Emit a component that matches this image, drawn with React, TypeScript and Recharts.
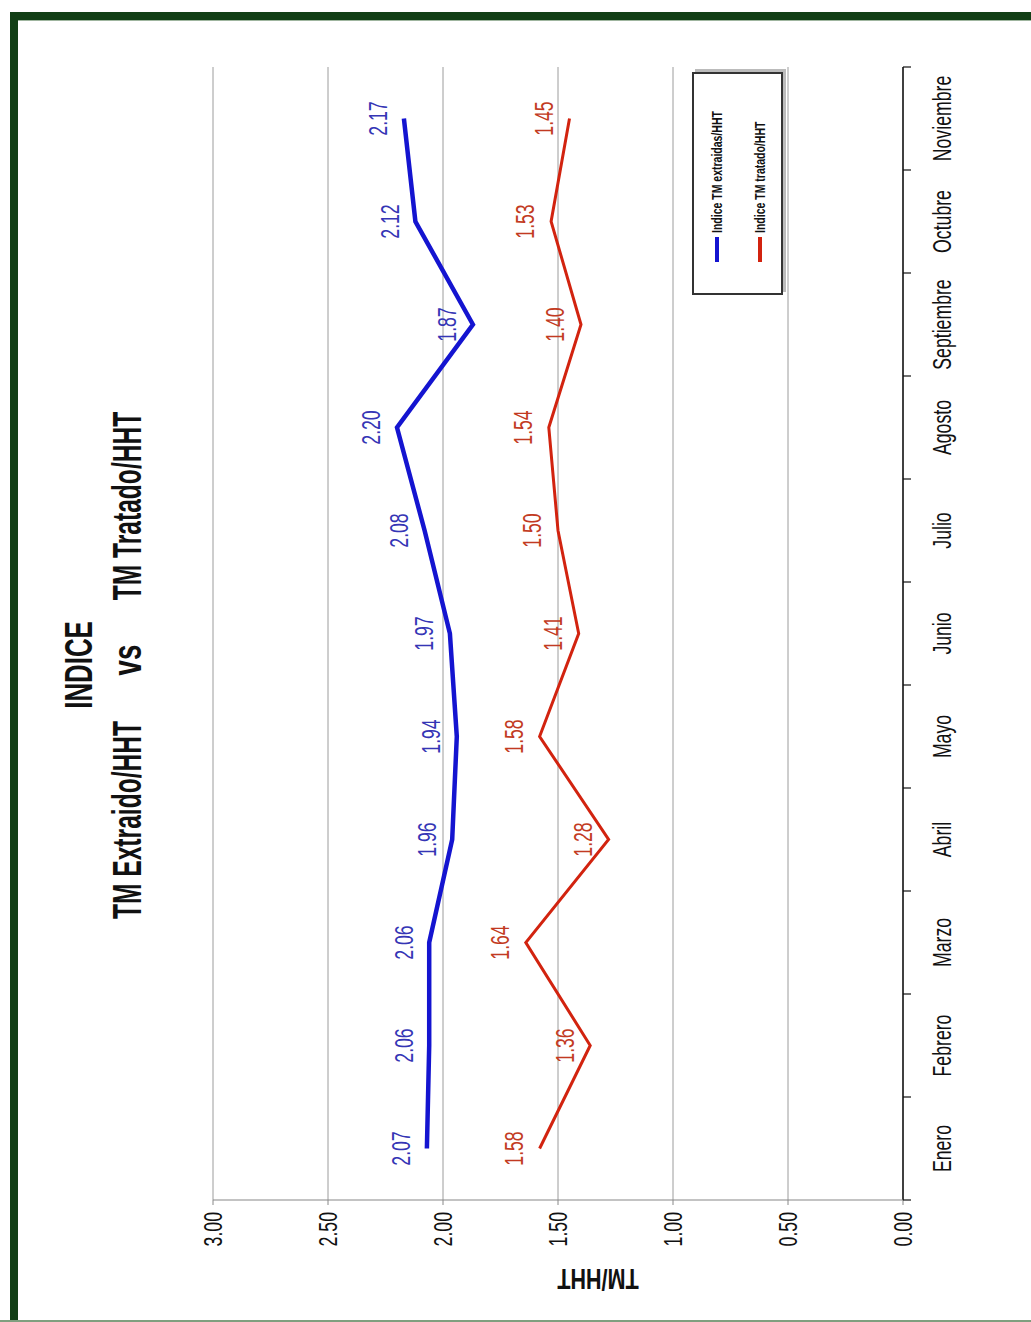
import React from 'react';
import { LineChart, Line, XAxis, YAxis, CartesianGrid, Legend, LabelList } from 'recharts';

const months = ['Enero', 'Febrero', 'Marzo', 'Abril', 'Mayo', 'Junio', 'Julio', 'Agosto', 'Septiembre', 'Octubre', 'Noviembre'];
const extraido = [2.07, 2.06, 2.06, 1.96, 1.94, 1.97, 2.08, 2.2, 1.87, 2.12, 2.17];
const tratado = [1.58, 1.36, 1.64, 1.28, 1.58, 1.41, 1.5, 1.54, 1.4, 1.53, 1.45];
const yTicks = [0, 0.5, 1, 1.5, 2, 2.5, 3];
const seriesNames = ['Indice TM extraidas/HHT', 'Indice TM tratado/HHT'];
const titleLine1 = 'INDICE';
const titleParts = ['TM Extraido/HHT', 'vs', 'TM Tratado/HHT'];
const yLabel = 'TM/HHT';

const data = months.map((m, i) => ({ month: m, extraido: extraido[i], tratado: tratado[i] }));

// landscape layout (rendered then rotated -90deg)
const W = 1322;
const H = 1031;
const PLOT_LEFT = 122;
const PLOT_RIGHT = 1255;
const PLOT_TOP = 213;
const PLOT_BOTTOM = 903;
const HALF = (PLOT_RIGHT - PLOT_LEFT) / months.length / 2;
const FONT = '"Liberation Sans", Arial, sans-serif';
const SQ = 0.68;
const BLUE = '#1414d0';
const RED = '#d2230f';
const BLUE_TXT = '#3535b5';
const RED_TXT = '#c23a22';

const YTick = (props: any) => {
  const { x, y, payload } = props;
  return (
    <text transform={`translate(${x - 5},${y}) scale(${SQ},1)`} textAnchor="end" dy="0.36em"
      fontFamily={FONT} fontSize={26} fill="#111">
      {Number(payload.value).toFixed(2)}
    </text>
  );
};

const XTick = (props: any) => {
  const { x, y, payload, index } = props;
  const axisY = y - 8;
  const last = index === months.length - 1;
  return (
    <g>
      <line x1={x - HALF} x2={x - HALF} y1={axisY} y2={axisY + 8} stroke="#111" strokeWidth={1.2} />
      {last && <line x1={x + HALF} x2={x + HALF} y1={axisY} y2={axisY + 8} stroke="#111" strokeWidth={1.2} />}
      <text transform={`translate(${x},${axisY + 39}) scale(${SQ},1)`} textAnchor="middle" dy="0.36em"
        fontFamily={FONT} fontSize={26} fill="#111">
        {payload.value}
      </text>
    </g>
  );
};

const makeLabel = (color: string) => (props: any) => {
  const { x, y, value } = props;
  return (
    <text transform={`translate(${x},${y - 26}) scale(${SQ},1)`} textAnchor="middle" dy="0.36em"
      fontFamily={FONT} fontSize={26} fill={color}>
      {Number(value).toFixed(2)}
    </text>
  );
};

const YAxisLabel = () => (
  <text transform={`translate(42,598) rotate(-90) scale(0.72,1)`} textAnchor="middle" dy="0.36em"
    fontFamily={FONT} fontSize={30} fontWeight="bold" fill="#111">
    {yLabel}
  </text>
);

const LegendBox = () => {
  const colors = [BLUE, RED];
  return (
    <div style={{ width: 223, height: 91, border: '2px solid #333', background: '#fff', boxSizing: 'border-box', position: 'relative', boxShadow: '3px 3px 0 #bbb' }}>
      {seriesNames.map((n, i) => (
        <div key={n} style={{ position: 'absolute', left: 0, top: i === 0 ? 23 : 66, height: 0 }}>
          <div style={{ position: 'absolute', left: 31, top: -2, width: 25, height: 4, background: colors[i] }} />
          <div style={{ position: 'absolute', left: 60, top: -9, whiteSpace: 'nowrap', fontFamily: FONT, fontSize: 15, fontWeight: 'bold', lineHeight: '18px', color: '#111', transform: 'scaleX(0.7)', transformOrigin: '0 0' }}>
            {n}
          </div>
        </div>
      ))}
    </div>
  );
};

const Title = () => (
  <svg width={W} height={H} style={{ position: 'absolute', left: 0, top: 0, pointerEvents: 'none' }}>
    <text transform={`translate(657,92) scale(0.68,1)`} textAnchor="middle" fontFamily={FONT} fontSize={38} fontWeight="bold" fill="#111">
      {titleLine1}
    </text>
    <text transform={`translate(502,141) scale(0.6,1)`} textAnchor="middle" fontFamily={FONT} fontSize={41} fontWeight="bold" fill="#111">
      {titleParts[0]}
    </text>
    <text transform={`translate(662,141) scale(0.68,1)`} textAnchor="middle" fontFamily={FONT} fontSize={41} fontWeight="bold" fill="#111">
      {titleParts[1]}
    </text>
    <text transform={`translate(816,141) scale(0.6,1)`} textAnchor="middle" fontFamily={FONT} fontSize={41} fontWeight="bold" fill="#111">
      {titleParts[2]}
    </text>
  </svg>
);

export default function App() {
  return (
    <div style={{ position: 'absolute', left: 0, top: 0, width: 1031, height: 1322, background: '#fff', overflow: 'hidden' }}>
      <div style={{ position: 'absolute', left: 0, top: 0, width: W, height: H, transformOrigin: '0 0', transform: `matrix(0,-1,1,0,0,${W})` }}>
        <LineChart width={W} height={H} data={data} margin={{ top: PLOT_TOP, right: W - PLOT_RIGHT, bottom: 0, left: 0 }}>
          <CartesianGrid vertical={false} stroke="#9c9c9c" strokeWidth={1} />
          <XAxis dataKey="month" scale="point" padding={{ left: HALF, right: HALF }} interval={0}
            height={H - PLOT_BOTTOM} tickLine={false} tickSize={8} tickMargin={0}
            axisLine={{ stroke: '#111', strokeWidth: 1.5 }} tick={<XTick />} />
          <YAxis domain={[0, 3]} ticks={yTicks} width={PLOT_LEFT} interval={0}
            axisLine={{ stroke: '#888', strokeWidth: 1.2 }} tickLine={{ stroke: '#888' }} tickSize={5} tickMargin={2}
            tick={<YTick />} label={<YAxisLabel />} />
          <Legend layout="horizontal" verticalAlign="middle" align="center" content={<LegendBox />}
            wrapperStyle={{ position: 'absolute', left: 1027, top: 692, width: 223, height: 91 }} />
          <Line type="linear" dataKey="extraido" name={seriesNames[0]} stroke={BLUE} strokeWidth={4.5} dot={false} isAnimationActive={false}>
            <LabelList dataKey="extraido" content={makeLabel(BLUE_TXT)} />
          </Line>
          <Line type="linear" dataKey="tratado" name={seriesNames[1]} stroke={RED} strokeWidth={3} dot={false} isAnimationActive={false}>
            <LabelList dataKey="tratado" content={makeLabel(RED_TXT)} />
          </Line>
        </LineChart>
        <Title />
      </div>
      <div style={{ position: 'absolute', left: 10, top: 12, width: 8, height: 1310, background: '#123f16' }} />
      <div style={{ position: 'absolute', left: 10, top: 12, width: 1021, height: 8, background: '#123f16' }} />
      <div style={{ position: 'absolute', left: 18, top: 20, width: 1013, height: 1, background: '#9fb59f' }} />
      <div style={{ position: 'absolute', left: 0, top: 1320, width: 1031, height: 2, background: '#7f9f7f' }} />
    </div>
  );
}
